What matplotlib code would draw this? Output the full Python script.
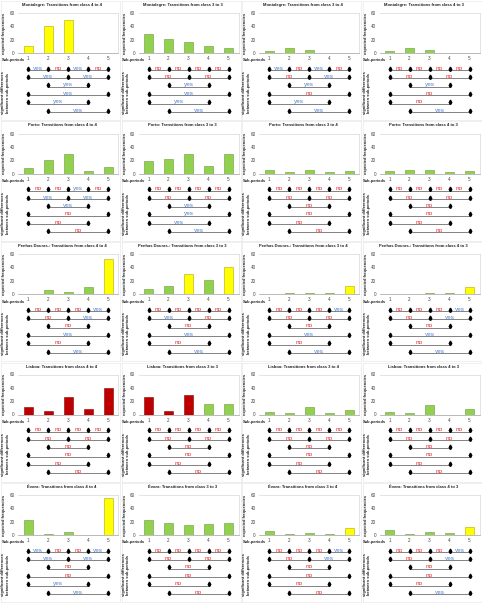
import matplotlib
matplotlib.use("Agg")
import matplotlib.pyplot as plt

plt.rcParams["font.family"] = ["Liberation Sans", "DejaVu Sans"]

W, H = 482, 605

regions = ["Montalegre", "Porto", "Penhas Douras.", "Lisboa", "Évora"]
transitions = ["4 to 4", "3 to 3", "3 to 4", "4 to 3"]
sub_periods = ["1", "2", "3", "4", "5"]
y_ticks = [0, 20, 40, 60]

# expected frequencies per region: one list per transition column
montalegre_freq = [[10, 40, 49, 0, 0], [28, 21, 16, 10, 7], [3, 7, 4, 0, 0], [3, 7, 4, 0, 0]]
porto_freq = [[8, 20, 30, 4, 10], [19, 22, 30, 12, 30], [5, 3, 5, 2, 4], [4, 6, 5, 2, 4]]
penhas_freq = [[0, 6, 3, 10, 52], [7, 12, 30, 21, 41], [0, 1, 1, 1, 12], [0, 0.5, 2, 1.5, 11]]
lisboa_freq = [[12, 5, 26, 8, 40], [27, 5, 30, 16, 16], [4, 2, 12, 3, 7], [4, 2, 14, 0, 8]]
evora_freq = [[22, 1, 4, 0, 55], [22, 18, 15, 16, 18], [6, 2, 3, 2, 11], [7, 1, 4, 3, 12]]

# bar colour codes: g = green, y = yellow, r = dark red
montalegre_col = ["yyyyy", "ggggg", "ggggg", "ggggg"]
porto_col = ["ggggg", "ggggg", "ggggg", "ggggg"]
penhas_col = ["ggggy", "ggygy", "ggggy", "ggggy"]
lisboa_col = ["rrrrr", "rrrgg", "ggggg", "ggggg"]
evora_col = ["ggggy", "ggggg", "ggggy", "ggggy"]

# significance (yes/no) for pairs: 1-2, 2-3, 3-4, 4-5, 1-3, 3-5, 2-4, 1-5, 1-4, 2-5
montalegre_sig = [
    ["yes", "no", "yes", "no", "yes", "yes", "yes", "yes", "yes", "yes"],
    ["no", "no", "no", "no", "no", "no", "yes", "yes", "yes", "yes"],
    ["yes", "no", "yes", "no", "no", "yes", "yes", "no", "yes", "yes"],
    ["no", "no", "no", "no", "no", "no", "yes", "no", "no", "yes"],
]
porto_sig = [
    ["no", "no", "yes", "no", "yes", "yes", "yes", "no", "no", "no"],
    ["no", "no", "no", "no", "no", "no", "yes", "yes", "yes", "yes"],
    ["no", "no", "no", "no", "no", "no", "no", "no", "no", "no"],
    ["no", "no", "no", "no", "no", "no", "no", "no", "no", "no"],
]
penhas_sig = [
    ["no", "no", "no", "yes", "no", "yes", "no", "yes", "no", "yes"],
    ["no", "no", "no", "no", "yes", "no", "no", "yes", "no", "yes"],
    ["no", "no", "no", "yes", "no", "no", "no", "yes", "no", "yes"],
    ["no", "no", "no", "yes", "no", "yes", "no", "yes", "no", "yes"],
]
lisboa_sig = [
    ["no", "no", "no", "no", "no", "no", "no", "no", "no", "no"],
    ["no", "no", "no", "no", "no", "no", "no", "no", "no", "no"],
    ["no", "no", "no", "no", "no", "no", "no", "no", "no", "no"],
    ["no", "no", "no", "no", "no", "no", "no", "no", "no", "no"],
]
evora_sig = [
    ["yes", "no", "no", "yes", "yes", "yes", "no", "no", "yes", "yes"],
    ["no", "no", "no", "no", "no", "no", "no", "no", "no", "no"],
    ["no", "no", "no", "yes", "no", "yes", "no", "no", "no", "no"],
    ["no", "no", "no", "yes", "no", "yes", "no", "no", "no", "yes"],
]

freqs = [montalegre_freq, porto_freq, penhas_freq, lisboa_freq, evora_freq]
cols = [montalegre_col, porto_col, penhas_col, lisboa_col, evora_col]
sigs = [montalegre_sig, porto_sig, penhas_sig, lisboa_sig, evora_sig]

pairs = [(1, 2), (2, 3), (3, 4), (4, 5), (1, 3), (3, 5), (2, 4), (1, 5), (1, 4), (2, 5)]
pair_row = [0, 0, 0, 0, 1, 1, 2, 3, 4, 5]
row_spans = [(1, 5, [1, 2, 3, 4, 5]), (1, 5, [1, 3, 5]), (2, 4, [2, 4]),
             (1, 5, [1, 5]), (1, 4, [1, 4]), (2, 5, [2, 5])]

colour_map = {"g": ("#92d050", "#6b9a35"), "y": ("#ffff00", "#b5a400"),
              "r": ("#c00000", "#8a0000")}
sig_colour = {"yes": "#4f81d0", "no": "#e8282b"}

fig = plt.figure(figsize=(W / 100, H / 100), dpi=100)
fig.patch.set_facecolor("white")


def fx(x):
    return x / W


def fy(y):
    return 1 - y / H


def add_ax(x0, y0, x1, y1):
    return fig.add_axes([fx(x0), fy(y1), (x1 - x0) / W, (y1 - y0) / H])


fs = 3.3
for r, region in enumerate(regions):
    py = r * 120.5
    for c, trans in enumerate(transitions):
        px = c * 120.5
        border = add_ax(px + 1, py + 1, px + 120, py + 120)
        border.set_xticks([]); border.set_yticks([])
        border.patch.set_alpha(0)
        for s in border.spines.values():
            s.set_color("#e4e4e4"); s.set_linewidth(0.4)
        border.set_zorder(-5)

        fig.text(fx(px + 62), fy(py + 5), f"{region}: Transitions from class {trans}",
                 ha="center", va="center", fontsize=3.0, fontweight="bold", color="#222222")

        ax = add_ax(px + 18, py + 13, px + 118, py + 53)
        vals = freqs[r][c]
        bcols = cols[r][c]
        xs = list(range(1, 6))
        for i, v in enumerate(vals):
            fc, ec = colour_map[bcols[i]]
            ax.bar(xs[i], v, width=0.45, color=fc, edgecolor=ec, linewidth=0.4, zorder=3)
        ax.set_xlim(0.5, 5.5)
        ax.set_ylim(0, 60)
        ax.set_yticks(y_ticks)
        ax.set_yticklabels([str(t) for t in y_ticks], fontsize=fs, color="#444444")
        ax.set_xticks(xs)
        ax.set_xticklabels(sub_periods, fontsize=fs, color="#444444")
        ax.tick_params(length=0, pad=2.5)
        ax.spines["left"].set_visible(False)
        ax.spines["right"].set_color("#d8d8d8")
        ax.spines["top"].set_color("#d8d8d8")
        ax.spines["bottom"].set_color("#a0a0a0")
        for s in ax.spines.values():
            s.set_linewidth(0.5)
        ax.grid(False)

        fig.text(fx(px + 4.5), fy(py + 33), "expected frequencies", rotation=90,
                 ha="center", va="center", fontsize=2.9, fontweight="bold", color="#222222")
        fig.text(fx(px + 1.5), fy(py + 60.5), "Sub-periods", ha="left", va="center",
                 fontsize=2.9, fontweight="bold", color="#222222")
        fig.text(fx(px + 5.5), fy(py + 93), "significant differences\nbetween sub-periods",
                 rotation=90, ha="center", va="center", fontsize=2.9, fontweight="bold",
                 color="#222222", linespacing=1.1)

        dax = add_ax(px + 18, py + 65, px + 118, py + 117)
        dax.set_xlim(0.5, 5.5)
        dax.set_ylim(5.6, -0.6)
        dax.axis("off")
        for k, (a, b, pts) in enumerate(row_spans):
            dax.plot([a, b], [k, k], color="#6e6e6e", lw=0.6, zorder=1)
            dax.plot(pts, [k - 0.28] * len(pts), linestyle="none", marker="^",
                     markersize=2.0, color="black", zorder=2)
            dax.plot(pts, [k - 0.05] * len(pts), linestyle="none", marker="o",
                     markersize=1.0, color="black", zorder=2)
        for (a, b), k, lab in zip(pairs, pair_row, sigs[r][c]):
            dax.text((a + b) / 2, k - 0.22, lab, ha="center", va="center",
                     fontsize=4.6, color=sig_colour[lab], zorder=3)

fig.savefig("out.png", dpi=100, facecolor="white")
